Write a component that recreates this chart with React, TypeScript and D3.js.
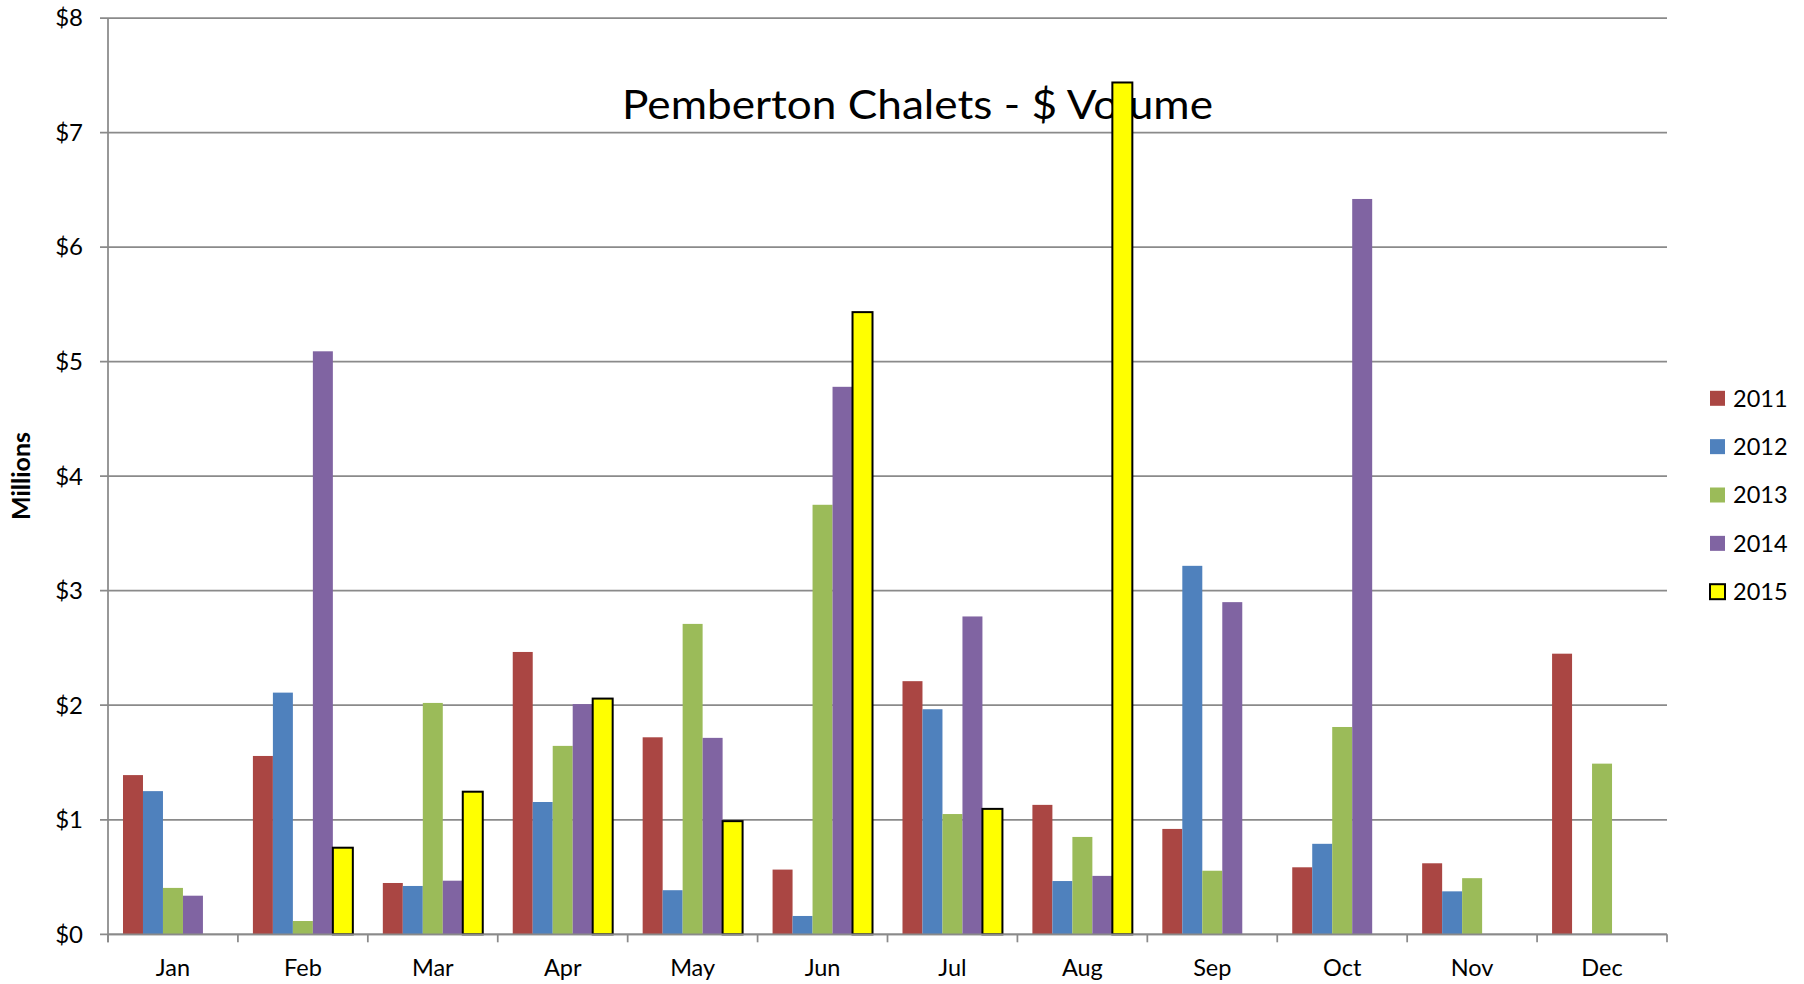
import React from "react";
import * as d3 from "d3";

const months = ["Jan", "Feb", "Mar", "Apr", "May", "Jun", "Jul", "Aug", "Sep", "Oct", "Nov", "Dec"];
const seriesNames = ["2011", "2012", "2013", "2014", "2015"];
const v2011 = [1.39, 1.557, 0.448, 2.465, 1.72, 0.565, 2.21, 1.13, 0.92, 0.585, 0.62, 2.45];
const v2012 = [1.25, 2.11, 0.422, 1.155, 0.385, 0.16, 1.965, 0.465, 3.217, 0.79, 0.375, null];
const v2013 = [0.405, 0.116, 2.02, 1.645, 2.71, 3.75, 1.05, 0.85, 0.555, 1.81, 0.49, 1.49];
const v2014 = [0.337, 5.09, 0.468, 2.01, 1.715, 4.78, 2.775, 0.51, 2.9, 6.42, null, null];
const v2015 = [null, 0.756, 1.245, 2.058, 0.988, 5.432, 1.095, 7.437, null, null, null, null];
const yTicks = [0, 1, 2, 3, 4, 5, 6, 7, 8];
const colors = ["#AA4643", "#4F81BD", "#9BBB59", "#8064A2", "#FFFF00"];

const allSeries: (number | null)[][] = [v2011, v2012, v2013, v2014, v2015];

const W = 1804;
const H = 984;
const left = 108;
const right = 1667;
const top = 18;
const bottom = 934.3;
const FONT = "Lato, 'Open Sans', sans-serif";

export default function App() {
  const x = d3.scaleBand<string>().domain(months).range([left, right]).paddingInner(0).paddingOuter(0);
  const xi = d3
    .scaleBand<string>()
    .domain(seriesNames)
    .range([0, x.bandwidth()])
    .paddingInner(0)
    .paddingOuter(0.75);
  const y = d3.scaleLinear().domain([0, 8]).range([bottom, top]);
  const grid = "#8a8a8a";

  const boundaries = months.map((m) => x(m) as number).concat([right]);

  return (
    <div style={{ position: "absolute", left: 0, top: 0, width: W, height: H, overflow: "hidden" }}>
      <svg width={W} height={H} style={{ display: "block", background: "#fff" }}>
        {/* title behind bars */}
        <text
          x={917.5}
          y={119}
          textAnchor="middle"
          fontFamily={FONT}
          fontSize={40}
          textLength={591}
          lengthAdjust="spacingAndGlyphs"
          fill="#000"
        >
          Pemberton Chalets - $ Volume
        </text>

        {/* gridlines & y ticks */}
        {yTicks.map((t) => (
          <g key={t}>
            <line x1={left - 8} x2={right} y1={y(t)} y2={y(t)} stroke={grid} strokeWidth={1.75} />
            <text
              x={83}
              y={y(t)}
              dy="0.35em"
              textAnchor="end"
              fontFamily={FONT}
              fontSize={24}
              fill="#000"
            >
              {"$" + t}
            </text>
          </g>
        ))}

        {/* y axis */}
        <line x1={left} x2={left} y1={top} y2={bottom + 8} stroke={grid} strokeWidth={1.75} />

        {/* bars */}
        {allSeries.map((vals, si) => (
          <g key={si}>
            {vals.map((v, mi) => {
              if (v === null) return null;
              const bx = (x(months[mi]) as number) + (xi(seriesNames[si]) as number);
              const bw = xi.bandwidth();
              const isY = si === 4;
              return (
                <rect
                  key={mi}
                  x={bx}
                  y={y(v)}
                  width={bw}
                  height={bottom - y(v)}
                  fill={colors[si]}
                  stroke={isY ? "#000" : "none"}
                  strokeWidth={isY ? 2 : 0}
                />
              );
            })}
          </g>
        ))}

        {/* x axis */}
        <line x1={left} x2={right} y1={bottom} y2={bottom} stroke={grid} strokeWidth={1.75} />
        {boundaries.map((b, i) => (
          <line key={i} x1={b} x2={b} y1={bottom} y2={bottom + 8} stroke={grid} strokeWidth={1.75} />
        ))}
        {months.map((m) => (
          <text
            key={m}
            x={(x(m) as number) + x.bandwidth() / 2}
            y={976}
            textAnchor="middle"
            fontFamily={FONT}
            fontSize={23.5}
            fill="#000"
          >
            {m}
          </text>
        ))}

        {/* y axis title */}
        <text
          transform={`translate(30,476) rotate(-90)`}
          textAnchor="middle"
          fontFamily={FONT}
          fontSize={25}
          fontWeight="bold"
          fill="#000"
        >
          Millions
        </text>

        {/* legend */}
        {seriesNames.map((s, i) => {
          const cy = 398.3 + i * 48.35;
          return (
            <g key={s}>
              <rect
                x={1710}
                y={cy - 7.5}
                width={15}
                height={15}
                fill={colors[i]}
                stroke={i === 4 ? "#000" : "none"}
                strokeWidth={i === 4 ? 2 : 0}
              />
              <text x={1733} y={cy} dy="0.36em" fontFamily={FONT} fontSize={23.5} fill="#000">
                {s}
              </text>
            </g>
          );
        })}
      </svg>
    </div>
  );
}
